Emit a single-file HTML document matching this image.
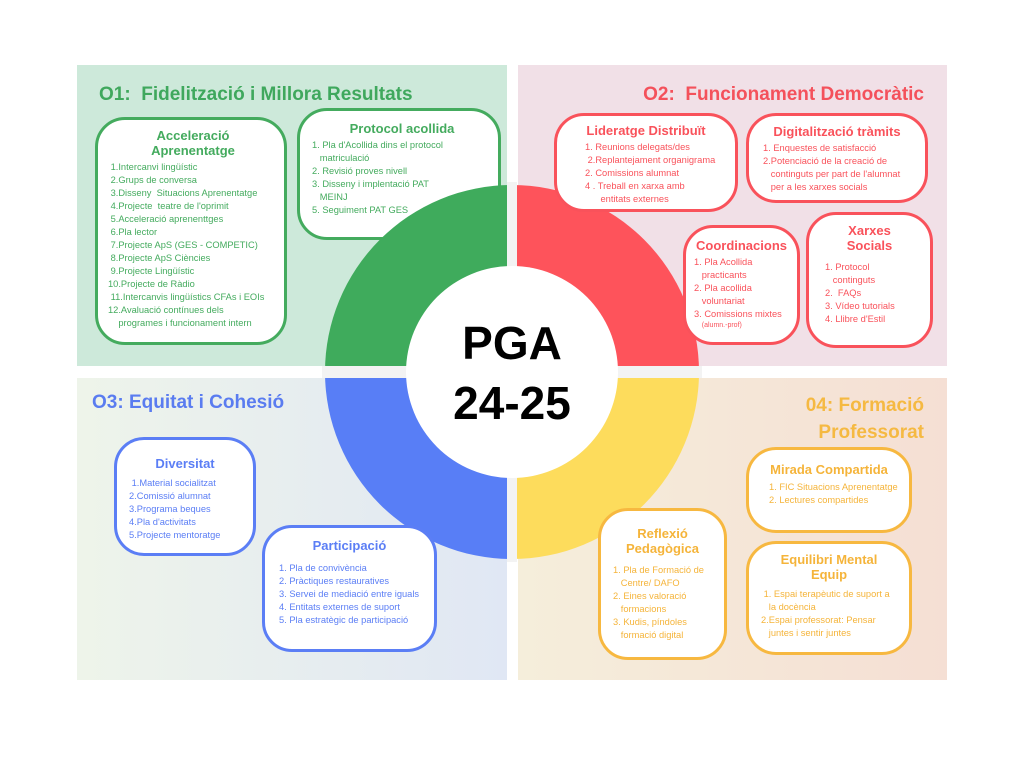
<!DOCTYPE html>
<html><head><meta charset="utf-8"><style>
body{margin:0;width:1024px;height:768px;background:#fff;position:relative;overflow:hidden;font-family:"Liberation Sans",sans-serif}
.q{position:absolute}
.h{position:absolute;font-weight:bold;font-size:19px;white-space:nowrap}
.b{position:absolute;background:#fff;border:3px solid;border-radius:30px;box-sizing:border-box;font-size:9.3px;line-height:13px}
.t{font-weight:bold;font-size:13px;line-height:15px;text-align:center;margin-bottom:3px}
.b div.l{white-space:nowrap}
.g{border-color:#44ab5e;color:#44ab5e}
.r{border-color:#f9525b;color:#f9525b}
.bl{border-color:#5b7ef5;color:#5b7ef5}
.y{border-color:#f7b840;color:#f5b43a}
.c{position:absolute;font-weight:bold;font-size:46px;color:#000;width:200px;text-align:center;left:412px}
</style></head><body>
<div class="q" style="left:77px;top:65px;width:430px;height:301px;background:#cde9da"></div>
<div class="q" style="left:518px;top:65px;width:429px;height:301px;background:#f1e0e7"></div>
<div class="q" style="left:77px;top:378px;width:430px;height:302px;background:linear-gradient(90deg,#eef4ea,#e0e7f4)"></div>
<div class="q" style="left:518px;top:378px;width:429px;height:302px;background:linear-gradient(90deg,#f5eedb,#f5dfd4)"></div>

<div class="h" style="left:99px;top:84px;color:#3fa85d">O1:&nbsp; Fidelització i Millora Resultats</div>
<div class="h" style="right:100px;top:84px;color:#f4515b">O2:&nbsp; Funcionament Democràtic</div>
<div class="h" style="left:92px;top:392px;color:#5a7cf0">O3: Equitat i Cohesió</div>
<div class="h" style="right:100px;top:392px;color:#f5b942;text-align:right;line-height:27px">04: Formació<br>Professorat</div>

<div class="b g" style="left:95px;top:117px;width:192px;height:228px;padding:8px 6px 0 10px">
<div class="t">Acceleració<br>Aprenentatge</div>
<div class="l">&nbsp;1.Intercanvi lingüístic</div><div class="l">&nbsp;2.Grups de conversa</div><div class="l">&nbsp;3.Disseny&nbsp; Situacions Aprenentatge</div><div class="l">&nbsp;4.Projecte&nbsp; teatre de l'oprimit</div><div class="l">&nbsp;5.Acceleració aprenenttges</div><div class="l">&nbsp;6.Pla lector</div><div class="l">&nbsp;7.Projecte ApS (GES - COMPETIC)</div><div class="l">&nbsp;8.Projecte ApS Ciències</div><div class="l">&nbsp;9.Projecte Lingüístic</div><div class="l">10.Projecte de Ràdio</div><div class="l">&nbsp;11.Intercanvis lingüístics CFAs i EOIs</div><div class="l">12.Avaluació contínues dels</div><div class="l">&nbsp;&nbsp;&nbsp;&nbsp;programes i funcionament intern</div>
</div>
<div class="b g" style="left:297px;top:108px;width:204px;height:132px;padding:10px 6px 0 12px">
<div class="t">Protocol acollida</div>
<div class="l">1. Pla d'Acollida dins el protocol</div><div class="l">&nbsp;&nbsp;&nbsp;matriculació</div><div class="l">2. Revisió proves nivell</div><div class="l">3. Disseny i implentació PAT</div><div class="l">&nbsp;&nbsp;&nbsp;MEINJ</div><div class="l">5. Seguiment PAT GES</div>
</div>
<div class="b r" style="left:746px;top:113px;width:182px;height:90px;padding:8px 6px 0 14px">
<div class="t" style="margin-left:-8px">Digitalització tràmits</div>
<div class="l">1. Enquestes de satisfacció</div><div class="l">2.Potenciació de la creació de</div><div class="l">&nbsp;&nbsp;&nbsp;continguts per part de l'alumnat</div><div class="l">&nbsp;&nbsp;&nbsp;per a les xarxes socials</div>
</div>

<svg style="position:absolute;left:0;top:0" width="1024" height="768">
<g transform="translate(512,372)">
<path d="M0,0 L-187,0 A187,187 0 0 1 0,-187 Z" fill="#3fab5c"/>
<path d="M0,0 L0,-187 A187,187 0 0 1 187,0 Z" fill="#fe535b"/>
<path d="M0,0 L-187,0 A187,187 0 0 0 0,187 Z" fill="#587ef6"/>
<path d="M0,0 L187,0 A187,187 0 0 1 0,187 Z" fill="#fddc5c"/>
<rect x="-190" y="-6" width="380" height="12" fill="#f3f3f3"/>
<rect x="-5" y="-190" width="10" height="380" fill="#f3f3f3"/>
<circle r="106" fill="#fff"/>
</g></svg>
<div class="c" style="top:316px">PGA</div>
<div class="c" style="top:376px">24-25</div>

<div class="b r" style="left:554px;top:113px;width:184px;height:99px;padding:7px 6px 0 28px">
<div class="t" style="margin-left:-22px">Lideratge Distribuït</div>
<div class="l">1. Reunions delegats/des</div><div class="l">&nbsp;2.Replantejament organigrama</div><div class="l">2. Comissions alumnat</div><div class="l">4 . Treball en xarxa amb</div><div class="l">&nbsp;&nbsp;&nbsp;&nbsp;&nbsp;&nbsp;entitats externes</div>
</div>
<div class="b y" style="left:598px;top:508px;width:129px;height:152px;padding:15px 4px 0 12px">
<div class="t" style="margin-left:-8px;margin-bottom:8px">Reflexió<br>Pedagògica</div>
<div class="l">1. Pla de Formació de</div><div class="l">&nbsp;&nbsp;&nbsp;Centre/ DAFO</div><div class="l">2. Eines valoració</div><div class="l">&nbsp;&nbsp;&nbsp;formacions</div><div class="l">3. Kudis, píndoles</div><div class="l">&nbsp;&nbsp;&nbsp;formació digital</div>
</div>
<div class="b r" style="left:683px;top:225px;width:117px;height:120px;padding:10px 4px 0 8px">
<div class="t" style="margin-left:-4px">Coordinacions</div>
<div class="l">1. Pla Acollida</div><div class="l">&nbsp;&nbsp;&nbsp;practicants</div><div class="l">2. Pla acollida</div><div class="l">&nbsp;&nbsp;&nbsp;voluntariat</div><div class="l">3. Comissions mixtes</div><div class="l" style="font-size:7px;line-height:9px">&nbsp;&nbsp;&nbsp;&nbsp;(alumn.-prof)</div>
</div>
<div class="b r" style="left:806px;top:212px;width:127px;height:136px;padding:8px 4px 0 16px">
<div class="t" style="margin-left:-12px;margin-bottom:8px">Xarxes<br>Socials</div>
<div class="l">1. Protocol</div><div class="l">&nbsp;&nbsp;&nbsp;continguts</div><div class="l">2.&nbsp; FAQs</div><div class="l">3. Vídeo tutorials</div><div class="l">4. Llibre d'Estil</div>
</div>

<div class="b bl" style="left:114px;top:437px;width:142px;height:119px;padding:16px 4px 0 12px">
<div class="t" style="margin-left:-8px;margin-bottom:6px">Diversitat</div>
<div class="l">&nbsp;1.Material socialitzat</div><div class="l">2.Comissió alumnat</div><div class="l">3.Programa beques</div><div class="l">4.Pla d'activitats</div><div class="l">5.Projecte mentoratge</div>
</div>
<div class="b bl" style="left:262px;top:525px;width:175px;height:127px;padding:10px 4px 0 14px">
<div class="t" style="margin-left:-10px;margin-bottom:9px">Participació</div>
<div class="l">1. Pla de convivència</div><div class="l">2. Pràctiques restauratives</div><div class="l">3. Servei de mediació entre iguals</div><div class="l">4. Entitats externes de suport</div><div class="l">5. Pla estratègic de participació</div>
</div>

<div class="b y" style="left:746px;top:447px;width:166px;height:86px;padding:12px 4px 0 20px">
<div class="t" style="margin-left:-16px;margin-bottom:4px">Mirada Compartida</div>
<div class="l">1. FIC Situacions Aprenentatge</div><div class="l">2. Lectures compartides</div>
</div>
<div class="b y" style="left:746px;top:541px;width:166px;height:114px;padding:8px 4px 0 12px">
<div class="t" style="margin-left:-8px;margin-bottom:6px">Equilibri Mental<br>Equip</div>
<div class="l">&nbsp;1. Espai terapèutic de suport a</div><div class="l">&nbsp;&nbsp;&nbsp;la docència</div><div class="l">2.Espai professorat: Pensar</div><div class="l">&nbsp;&nbsp;&nbsp;juntes i sentir juntes</div>
</div>
</body></html>
